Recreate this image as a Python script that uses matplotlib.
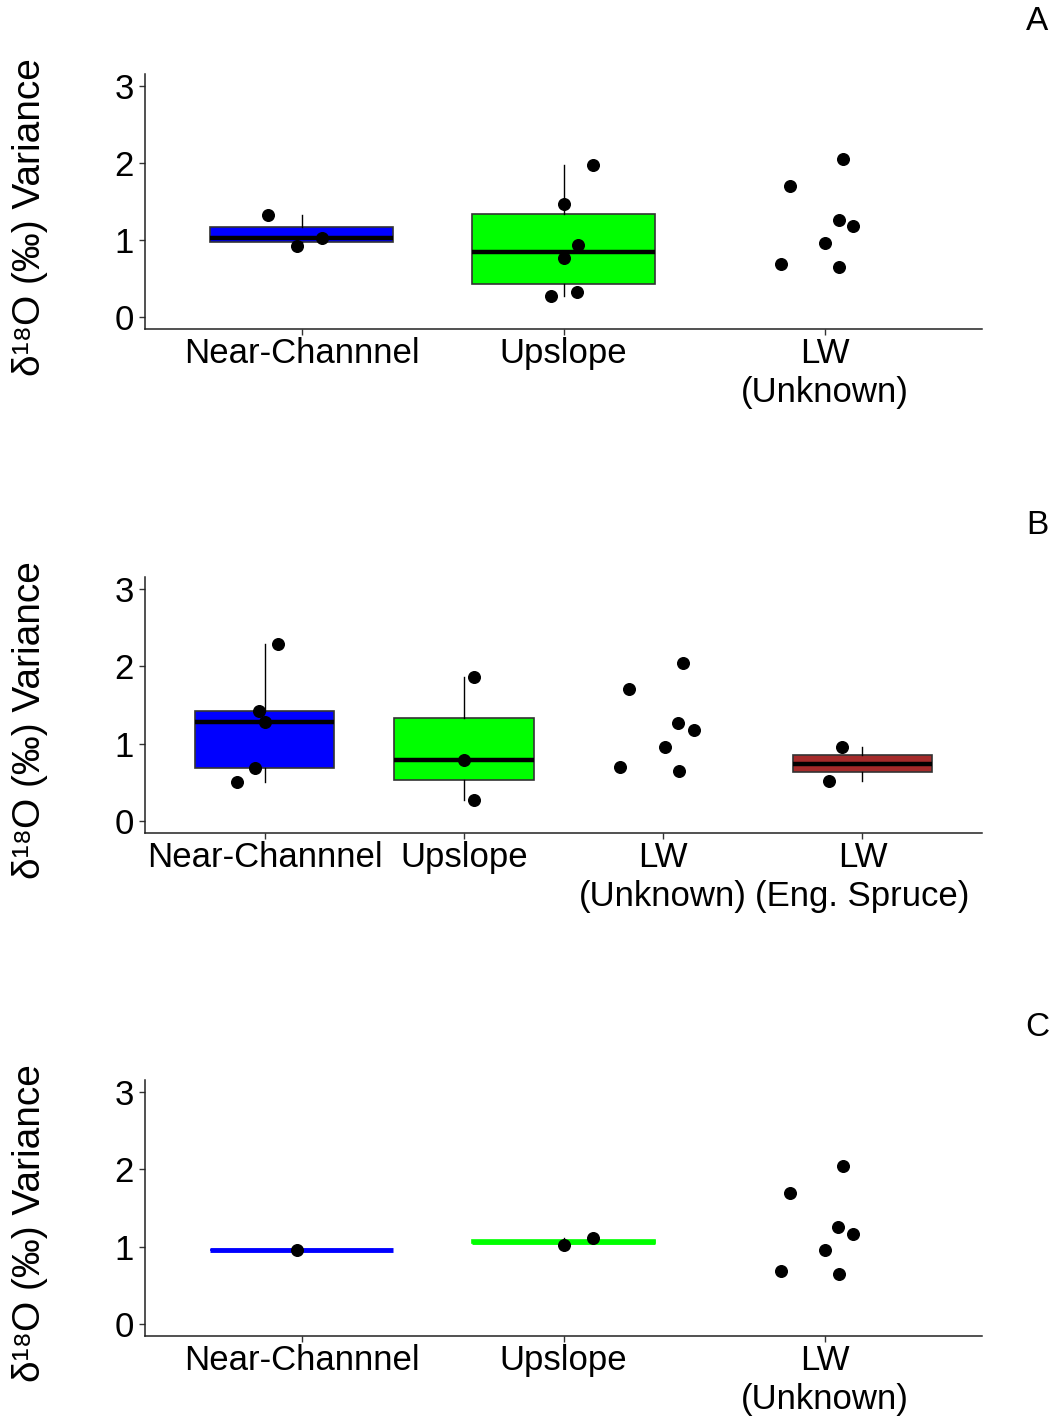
import matplotlib
matplotlib.use("Agg")
import matplotlib.pyplot as plt
import numpy as np

plt.rcParams['font.family'] = ['Liberation Sans', 'DejaVu Sans']

# ── data ──────────────────────────────────────────────────────────────────────
labels_a = ["Near-Channnel", "Upslope", "LW\n(Unknown)"]
colors_a = ["#0000FF", "#00FF00", None]
nc_a = [1.319, 0.927, 1.026]
nc_a_jit = [-0.129, -0.020, 0.076]
up_a = [1.974, 1.466, 0.935, 0.763, 0.280, 0.323]
up_a_jit = [0.114, 0.0, 0.055, 0.0, -0.046, 0.050]
lw_a = [2.052, 1.707, 1.267, 1.181, 0.961, 0.694, 0.647]
lw_a_jit = [0.068, -0.135, 0.052, 0.107, -0.002, -0.168, 0.055]

labels_b = ["Near-Channnel", "Upslope", "LW\n(Unknown)", "LW\n(Eng. Spruce)"]
colors_b = ["#0000FF", "#00FF00", None, "#A52A2A"]
nc_b = [2.286, 1.422, 1.276, 0.688, 0.511]
nc_b_jit = [0.069, -0.029, 0.0, -0.049, -0.138]
up_b = [1.861, 0.795, 0.271]
up_b_jit = [0.052, 0.0, 0.049]
lw_b = [2.046, 1.702, 1.263, 1.177, 0.958, 0.700, 0.649]
lw_b_jit = [0.098, -0.173, 0.075, 0.153, 0.009, -0.216, 0.081]
sp_b = [0.963, 0.524]
sp_b_jit = [-0.101, -0.167]

labels_c = ["Near-Channnel", "Upslope", "LW\n(Unknown)"]
colors_c = ["#0000FF", "#00FF00", None]
nc_c = [0.956]
nc_c_jit = [-0.020]
up_c = [1.020, 1.114]
up_c_jit = [0.0, 0.114]
lw_c = [2.040, 1.697, 1.260, 1.170, 0.956, 0.690, 0.647]
lw_c_jit = [0.067, -0.135, 0.050, 0.107, -0.002, -0.168, 0.055]

yticks = [0, 1, 2, 3]
ylabel = 'δ\u00b9\u2078O (‰) Variance'

W, H = 1056, 1418
fig = plt.figure(figsize=(W / 100, H / 100), dpi=100)


def make_axes(top_px, bottom_px):
    return fig.add_axes([145 / W, 1 - bottom_px / H, (982 - 145) / W,
                         (bottom_px - top_px) / H])


def draw_panel(ax, labels, groups, jits, colors, letter, flat=False):
    n = len(labels)
    for i, (vals, col) in enumerate(zip(groups, colors)):
        pos = i + 1
        if col is not None:
            edge = col if flat else '#333333'
            med = col if flat else 'black'
            ax.boxplot(vals, positions=[pos], widths=0.7, patch_artist=True,
                       showcaps=False, showfliers=False,
                       boxprops=dict(facecolor=col, edgecolor=edge, linewidth=1.2),
                       whiskerprops=dict(color='black', linewidth=1.0),
                       medianprops=dict(color=med, linewidth=3.5 if flat else 3.2),
                       manage_ticks=False)
        ax.scatter(pos + np.array(jits[i]), vals, s=70, color='black', zorder=4)
    ax.set_xlim(0.4, n + 0.6)
    ax.set_ylim(-0.15, 3.15)
    ax.set_xticks(range(1, n + 1))
    ax.set_xticklabels(labels, fontsize=25, linespacing=1.2)
    ax.set_yticks(yticks)
    ax.set_yticklabels([str(t) for t in yticks], fontsize=25)
    for s in ['top', 'right']:
        ax.spines[s].set_visible(False)
    for s in ['left', 'bottom']:
        ax.spines[s].set_linewidth(1.1)
        ax.spines[s].set_color('#222222')
    ax.tick_params(length=4, width=1, color='#333333', labelcolor='black', pad=4)
    ax.tick_params(axis='x', pad=2)
    ax.set_ylabel(ylabel, fontsize=28, va='center')
    ax.yaxis.set_label_coords(-0.137, 0.44)
    bb = ax.get_position()
    fig.text(1037 / W, bb.y1 + 52 / H, letter, fontsize=24, ha='center', va='center')


ax_a = make_axes(74, 329)
draw_panel(ax_a, labels_a, [nc_a, up_a, lw_a], [nc_a_jit, up_a_jit, lw_a_jit],
           colors_a, 'A')

ax_b = make_axes(577, 833)
draw_panel(ax_b, labels_b, [nc_b, up_b, lw_b, sp_b],
           [nc_b_jit, up_b_jit, lw_b_jit, sp_b_jit], colors_b, 'B')

ax_c = make_axes(1080, 1336)
draw_panel(ax_c, labels_c, [nc_c, up_c, lw_c], [nc_c_jit, up_c_jit, lw_c_jit],
           colors_c, 'C', flat=True)

fig.savefig("out.png", dpi=100, facecolor='white')
